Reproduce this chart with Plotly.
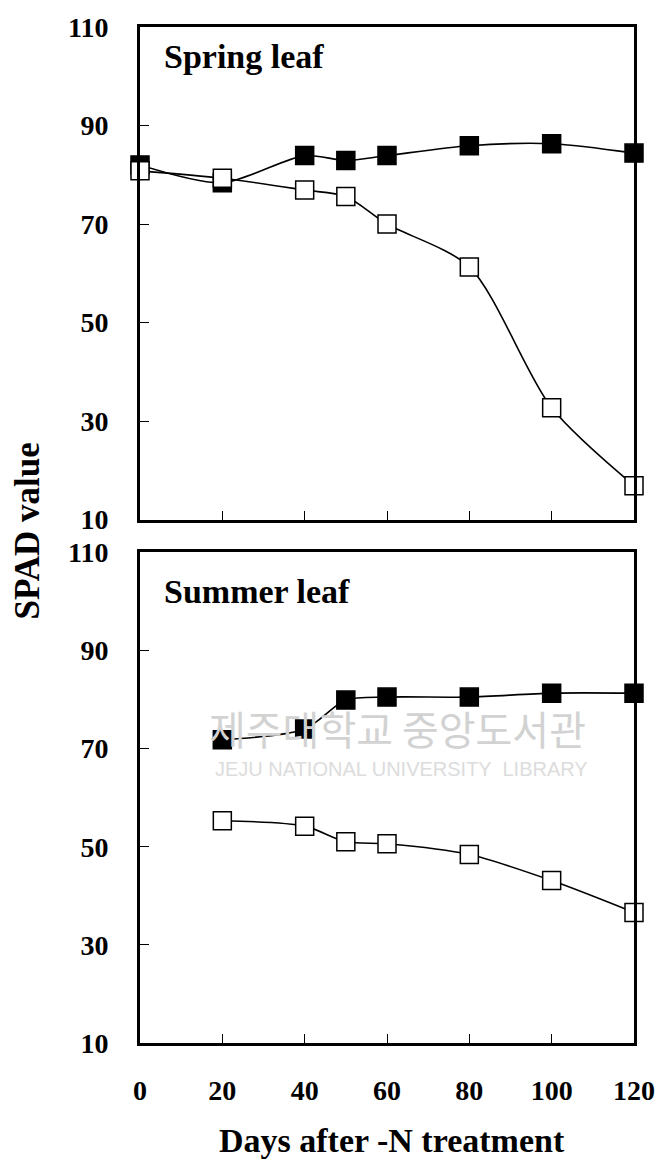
import plotly.graph_objects as go

days_spring = [0, 20, 40, 50, 60, 80, 100, 120]
spring_control = [82.0, 78.4, 83.9, 82.9, 83.9, 85.9, 86.3, 84.4]
spring_minusN = [80.8, 79.3, 76.9, 75.6, 70.0, 61.3, 32.7, 16.9]

days_summer = [20, 40, 50, 60, 80, 100, 120]
summer_control = [71.8, 74.0, 79.9, 80.5, 80.5, 81.3, 81.3]
summer_minusN = [55.3, 54.2, 51.0, 50.6, 48.4, 43.1, 36.6]

x_ticks = [0, 20, 40, 60, 80, 100, 120]
y_ticks = [10, 30, 50, 70, 90, 110]

FONT = "Liberation Serif"

fig = go.Figure()

def add_series(x, y, filled, xa, ya):
    fig.add_trace(go.Scatter(
        x=x, y=y, mode="lines+markers",
        line=dict(color="black", width=1.6, shape="spline", smoothing=0.8),
        marker=dict(symbol="square", size=18,
                    color="black" if filled else "white",
                    line=dict(color="black", width=1.5)),
        xaxis=xa, yaxis=ya, cliponaxis=False, showlegend=False))

# top panel (spring)
add_series(days_spring, spring_control, True, "x", "y")
add_series(days_spring, spring_minusN, False, "x", "y")
# bottom panel (summer)
add_series(days_summer, summer_control, True, "x2", "y2")
add_series(days_summer, summer_minusN, False, "x2", "y2")

axis_common = dict(showline=True, linecolor="black", linewidth=3, mirror=True,
                   ticks="inside", ticklen=9, tickwidth=1, tickcolor="black",
                   showgrid=False, zeroline=False)

tickfont = dict(family=FONT, size=28, color="black", weight="bold")

W, H = 667, 1161
L, R, T, B = 140, 24, 18, 118
ph = H - T - B
pw = W - L - R

def py(px):
    return (H - B - px) / ph

def pxx(px):
    return (px - L) / pw

fig.update_layout(
    width=W, height=H,
    margin=dict(l=L, r=R, t=T, b=B),
    paper_bgcolor="white", plot_bgcolor="white",
    xaxis=dict(domain=[0, 1], range=[0, 120], tickvals=x_ticks, showticklabels=False,
               anchor="y", **axis_common),
    yaxis=dict(domain=[py(515), 1], range=[10, 110], tickvals=y_ticks,
               tickfont=tickfont, ticklabelstandoff=23, anchor="x", **axis_common),
    xaxis2=dict(domain=[0, 1], range=[0, 120], tickvals=x_ticks, tickfont=tickfont,
                ticklabelstandoff=20, ticklabeloverflow="allow", anchor="y2", **axis_common),
    yaxis2=dict(domain=[0, py(548)], range=[10, 110], tickvals=y_ticks,
                tickfont=tickfont, ticklabelstandoff=23, anchor="x2", **axis_common),
)

ann_font = dict(family=FONT, size=34, color="black", weight="bold")
fig.add_annotation(text="Spring leaf", x=pxx(162), y=py(48), xref="paper", yref="paper",
                   xanchor="left", yanchor="middle", showarrow=False, font=ann_font)
fig.add_annotation(text="Summer leaf", x=pxx(162), y=py(588), xref="paper", yref="paper",
                   xanchor="left", yanchor="middle", showarrow=False, font=ann_font)

# watermark
fig.add_annotation(text="제주대학교 중앙도서관", x=pxx(402), y=py(725),
                   xref="paper", yref="paper", showarrow=False,
                   xanchor="center", yanchor="middle",
                   font=dict(family="Noto Sans CJK KR", size=40, color="#d2d2d2"))
fig.add_annotation(text="JEJU NATIONAL UNIVERSITY  LIBRARY", x=pxx(406), y=py(767),
                   xref="paper", yref="paper", showarrow=False,
                   xanchor="center", yanchor="middle",
                   font=dict(family="Liberation Sans", size=20, color="#dcdcdc"))

fig.add_annotation(text="SPAD value", x=pxx(25), y=py(527), xref="paper", yref="paper",
                   showarrow=False, textangle=-90, xanchor="center", yanchor="middle",
                   font=dict(family=FONT, size=35, color="black", weight="bold"))

fig.add_annotation(text="Days after -N treatment", x=pxx(397), y=py(1141),
                   xref="paper", yref="paper", showarrow=False,
                   xanchor="center", yanchor="middle",
                   font=dict(family=FONT, size=34, color="black", weight="bold"))

fig.write_html("out.html")
